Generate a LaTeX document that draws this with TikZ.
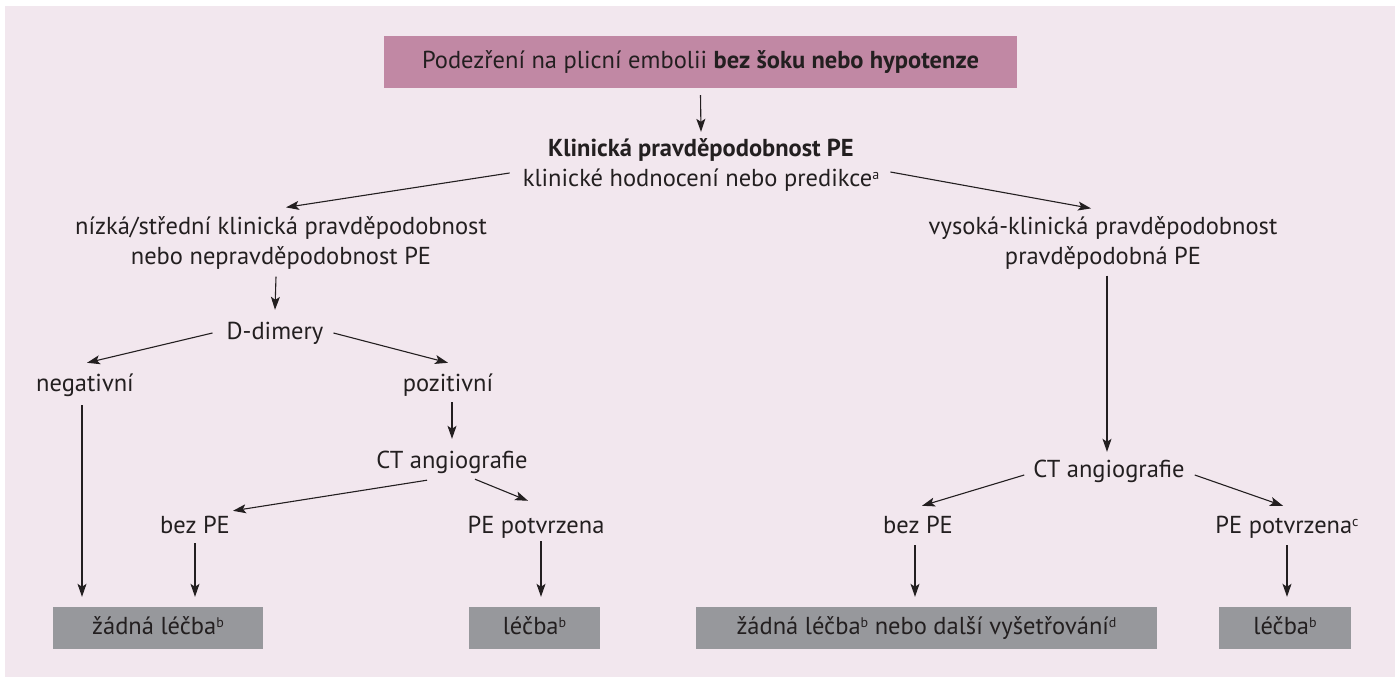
\documentclass[tikz,border=0pt]{standalone}
\usepackage{fontspec}
\setmainfont{PT Sans}
\usetikzlibrary{arrows.meta}
\definecolor{bgpink}{RGB}{242,231,238}
\definecolor{toppink}{RGB}{193,136,164}
\definecolor{boxgrey}{RGB}{151,152,156}
\definecolor{ink}{RGB}{35,31,32}
\newcommand{\fnm}[1]{\raisebox{6.5pt}{\fontsize{14}{14}\selectfont #1}}
\begin{document}
\begin{tikzpicture}[x=1pt,y=-1pt,
  every node/.style={font=\fontsize{24.5}{30}\selectfont, text=ink},
  lbl/.style={inner sep=0pt, text height=17pt, text depth=5pt},
  mlbl/.style={inner sep=0pt, align=center},
  arr/.style={draw=ink, line width=1.1pt, -{Stealth[length=13pt,width=9pt,inset=3pt]}},
  finalbox/.style={fill=boxgrey, inner sep=0pt, minimum height=42pt, text height=17pt, text depth=5pt},
]
\useasboundingbox (0,0) rectangle (1400,677);
\fill[bgpink] (5,6) rectangle (1395,677);

\node[fill=toppink, minimum width=633pt, minimum height=52pt, inner sep=0pt, text height=17pt, text depth=5pt] (top) at (700.5,62) {Podezření na plicní embolii \textbf{bez šoku nebo hypotenze}};
\node[lbl] (K1) at (701,150) {\textbf{Klinická pravděpodobnost PE}};
\node[lbl] (K2) at (701,180) {klinické hodnocení nebo predikce\fnm{a}};
\node[mlbl] (low) at (281,243) {nízká/střední klinická pravděpodobnost\\nebo nepravděpodobnost PE};
\node[mlbl] (high) at (1103,243) {vysoká-klinická pravděpodobnost\\pravděpodobná PE};
\node[lbl] (dd) at (275,333) {D-dimery};
\node[lbl] (neg) at (85,385) {negativní};
\node[lbl] (pos) at (448,385) {pozitivní};
\node[lbl] (ctl) at (452,462) {CT angiografie};
\node[lbl] (bezl) at (195,527) {bez PE};
\node[lbl] (potl) at (536,527) {PE potvrzena};
\node[lbl] (ctr) at (1109,471) {CT angiografie};
\node[lbl] (bezr) at (918,527) {bez PE};
\node[lbl] (potr) at (1287,527) {PE potvrzena\fnm{c}};

\node[finalbox, minimum width=210pt] (b1) at (158,628) {žádná léčba\fnm{b}};
\node[finalbox, minimum width=131pt] (b2) at (534.5,628) {léčba\fnm{b}};
\node[finalbox, minimum width=461pt] (b3) at (926.5,628) {žádná léčba\fnm{b} nebo další vyšetřování\fnm{d}};
\node[finalbox, minimum width=132pt] (b4) at (1285,628) {léčba\fnm{b}};

\draw[arr] ([yshift=-7pt]top.south) -- ([yshift=7pt]K1.north);
\draw[arr] ([xshift=-13pt,yshift=7pt]K2.west) -- ([xshift=5pt,yshift=9pt]low.north);
\draw[arr] ([xshift=11pt,yshift=8pt]K2.east) -- ([xshift=-12pt,yshift=8pt]high.north);
\draw[arr] ([xshift=-5pt,yshift=-7pt]low.south) -- ([yshift=12pt]dd.north);
\draw[arr] ([xshift=-14pt]dd.west) -- ([xshift=2pt,yshift=11pt]neg.north);
\draw[arr] ([xshift=10pt]dd.east) -- ([yshift=11pt]pos.north);
\draw[arr] ([xshift=4pt,yshift=-6pt]pos.south) -- ([xshift=0pt,yshift=12pt]ctl.north);
\draw[arr] ([xshift=-25pt,yshift=-7pt]ctl.south) -- ([xshift=38pt,yshift=5pt]bezl.north);
\draw[arr] ([xshift=23pt,yshift=-6pt]ctl.south) -- ([xshift=-8pt,yshift=15pt]potl.north);
\draw[arr, shorten <=9pt, shorten >=10pt] ([xshift=-3pt]neg.south) -- ([xshift=-3pt]neg.south |- b1.north);
\draw[arr, shorten <=5pt, shorten >=10pt] (bezl.south) -- (bezl.south |- b1.north);
\draw[arr, shorten <=3pt, shorten >=10pt] ([xshift=5pt]potl.south) -- ([xshift=5pt]potl.south |- b2.north);
\draw[arr, shorten <=6pt, shorten >=8pt] ([xshift=4pt]high.south) -- ([xshift=4pt]high.south |- ctr.north);
\draw[arr] ([xshift=-9pt,yshift=-4pt]ctr.west) -- ([xshift=4pt,yshift=10pt]bezr.north);
\draw[arr] ([xshift=10pt,yshift=-4pt]ctr.east) -- ([xshift=-4pt,yshift=10pt]potr.north);
\draw[arr, shorten <=7pt, shorten >=10pt] ([xshift=-3pt]bezr.south) -- ([xshift=-3pt]bezr.south |- b3.north);
\draw[arr, shorten <=7pt, shorten >=10pt] (potr.south) -- (potr.south |- b4.north);
\end{tikzpicture}
\end{document}
